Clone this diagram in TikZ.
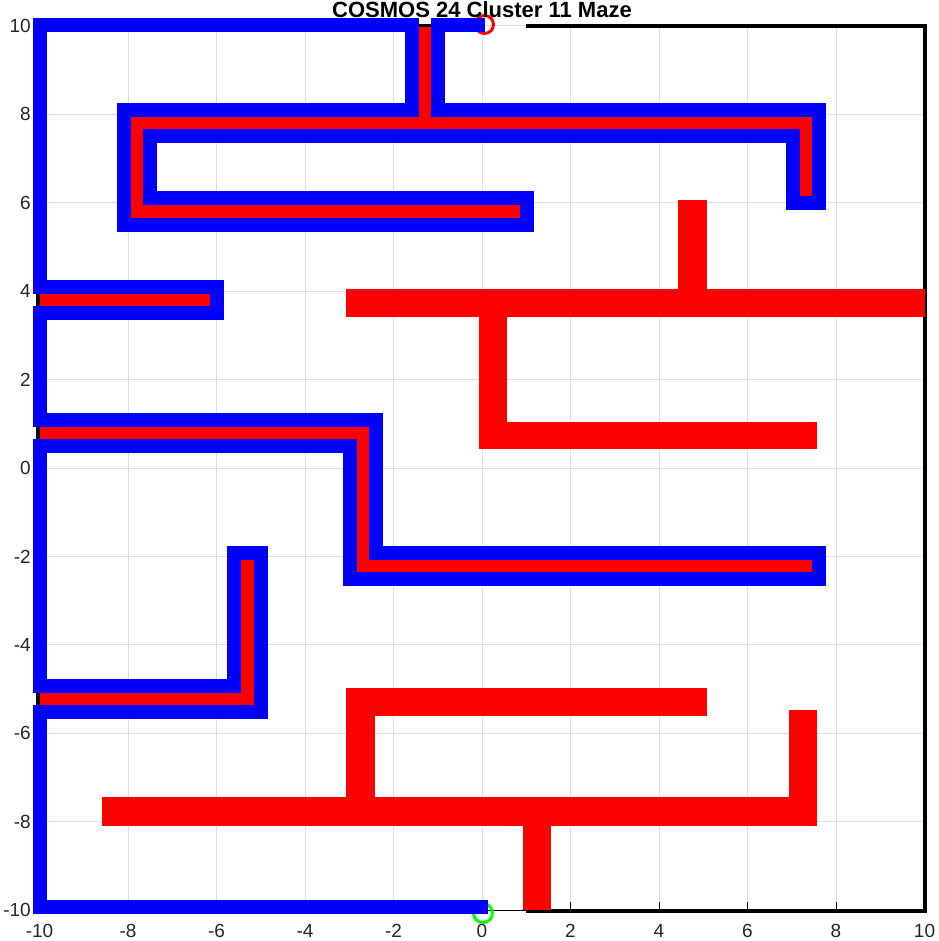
\documentclass[tikz,border=0pt]{standalone}
\usepackage{fontspec}
\setmainfont{Liberation Sans}
\begin{document}
\begin{tikzpicture}[x=1pt,y=-1pt]
\definecolor{gridgray}{RGB}{223,223,223}
\definecolor{mred}{RGB}{255,0,0}
\definecolor{mblue}{RGB}{0,0,255}
\definecolor{mgreen}{RGB}{0,255,0}
\tikzset{
  gridline/.style={draw=gridgray,line width=1pt},
  wall/.style={fill=mred},
  border/.style={draw=black,line width=4pt,line join=miter},
  axisline/.style={draw=black,line width=1pt},
  trail/.style={draw=mblue,line width=14pt,line join=miter,line cap=butt},
  ticklabel/.style={font=\fontsize{19}{22}\selectfont,inner sep=0pt,text=black!85},
  marker/.style={line width=3pt}
}
\useasboundingbox[fill=white] (0,0) rectangle (938,941);
% grid
\foreach \v in {-10,-8,...,10} {
  \draw[gridline] ({482+44.25*\v},26) -- ({482+44.25*\v},910.5);
  \draw[gridline] (38,{468-44.2*\v}) -- (924.5,{468-44.2*\v});
}
% axes
\draw[axisline] (38,26) -- (38,910.5) -- (924.5,910.5);
\foreach \v in {-10,-8,...,10} {
  \draw[axisline] ({482+44.25*\v},910.5) -- ({482+44.25*\v},902);
  \draw[axisline] (38,{468-44.2*\v}) -- (47,{468-44.2*\v});
  \node[ticklabel,anchor=base] at ({482+44.25*\v},937.5) {\v};
  \node[ticklabel,anchor=east] at (31,{468-44.2*\v}) {\v};
}
% outer walls
\draw[border] (38,912) -- (38,26) -- (445,26);
\draw[border] (526,26) -- (924.5,26) -- (924.5,910.5) -- (526,910.5);
% inner walls (traced)
\fill[wall] (412,27) rectangle (438,136);
\fill[wall] (124,110) rectangle (819,136);
\fill[wall] (793,110) rectangle (819,196);
\fill[wall] (124,110) rectangle (150,224);
\fill[wall] (124,198) rectangle (520,224);
\fill[wall] (40,287) rectangle (210,313);
\fill[wall] (40,420) rectangle (376,446);
\fill[wall] (350,420) rectangle (376,566);
\fill[wall] (350,553) rectangle (812,579);
\fill[wall] (40,686) rectangle (261,712);
\fill[wall] (234,560) rectangle (261,712);
% inner walls (free)
\fill[wall] (346,289) rectangle (925,317);
\fill[wall] (678,200) rectangle (707,289);
\fill[wall] (479,317) rectangle (507,449);
\fill[wall] (479,422) rectangle (817,449);
\fill[wall] (346,688) rectangle (707,716);
\fill[wall] (346,716) rectangle (375,797);
\fill[wall] (102,797) rectangle (817,826);
\fill[wall] (789,710) rectangle (817,797);
\fill[wall] (523,826) rectangle (551,910);
% start / goal markers
\draw[marker,mred] (484.5,24.5) circle (9);
\draw[marker,mgreen] (483,913) circle (9.5);
% path
\draw[trail] (488,907) -- (40,907) -- (40,712) -- (261,712) -- (261,553) -- (234,553)
  -- (234,686) -- (40,686) -- (40,446) -- (350,446) -- (350,579) -- (819,579)
  -- (819,553) -- (376,553) -- (376,420) -- (40,420) -- (40,313) -- (217,313)
  -- (217,287) -- (40,287) -- (40,25) -- (412,25) -- (412,110) -- (124,110)
  -- (124,225) -- (527,225) -- (527,198) -- (150,198) -- (150,136) -- (793,136)
  -- (793,203) -- (819,203) -- (819,110) -- (438,110) -- (438,25) -- (485,25);
% title
\node[font=\bfseries\fontsize{22}{24}\selectfont,anchor=base,inner sep=0pt] (title) at (482,17.5) {COSMOS 24 Cluster 11 Maze};
\end{tikzpicture}
\end{document}
